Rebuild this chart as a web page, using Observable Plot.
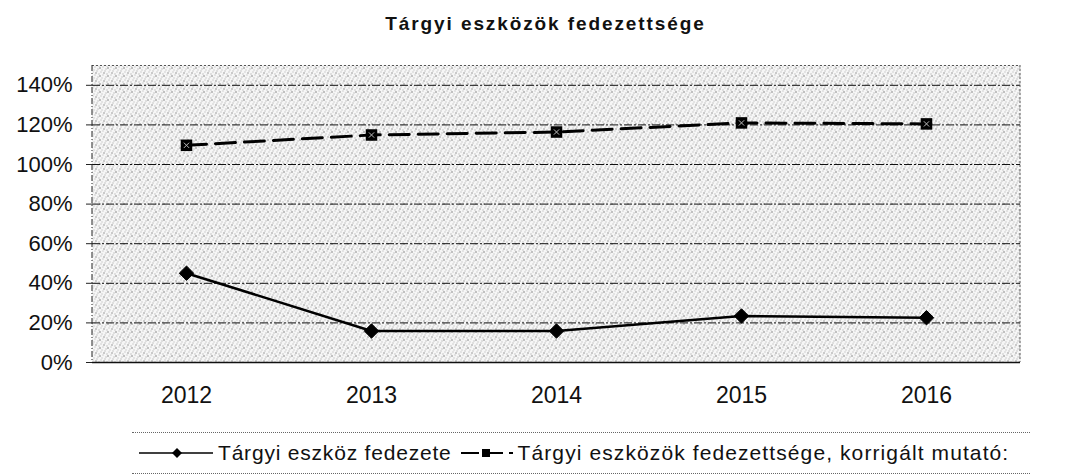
<!DOCTYPE html>
<html>
<head>
<meta charset="utf-8">
<script src="https://cdn.jsdelivr.net/npm/d3@7"></script>
<script src="https://cdn.jsdelivr.net/npm/@observablehq/plot@0.6"></script>
<style>
  html, body { margin: 0; padding: 0; background: #fff; }
  body { width: 1077px; height: 476px; overflow: hidden; font-family: "Liberation Sans", Arial, sans-serif; color: #111; }
  #title { height: 46px; line-height: 48px; text-align: center; font-weight: bold; font-size: 19px; letter-spacing: 1.9px; padding-left: 14px; }
  #chart { height: 372px; }
  #legend { position: absolute; left: 132px; width: 898px; top: 432px; height: 40px; border-top: 1px dotted #666; border-bottom: 1px dotted #666; display: flex; align-items: center; font-size: 21px; letter-spacing: 0.8px; }
  #legend .item { display: flex; align-items: center; }
  #legend svg { margin-right: 4px; }
</style>
</head>
<body>
<div id="title">Tárgyi eszközök fedezettsége</div>
<div id="chart"></div>
<div id="legend"></div>
<script>
const years = ["2012", "2013", "2014", "2015", "2016"];
const fedezete = [45.1, 15.9, 15.9, 23.5, 22.6];
const korrigalt = [109.7, 114.9, 116.4, 121.0, 120.5];
const yTicks = [0, 20, 40, 60, 80, 100, 120, 140];
const seriesNames = ["Tárgyi eszköz fedezete", "Tárgyi eszközök fedezettsége, korrigált mutató:"];

const d1 = years.map((y, i) => ({year: y, value: fedezete[i]}));
const d2 = years.map((y, i) => ({year: y, value: korrigalt[i]}));

const chart = Plot.plot({
  width: 1077,
  height: 372,
  marginLeft: 92,
  marginRight: 57,
  marginTop: 19,
  marginBottom: 56,
  style: {fontFamily: "Liberation Sans, Arial, sans-serif", fontSize: "22px", color: "#111", background: "transparent"},
  x: {domain: years, type: "point", padding: 0.5, label: null},
  y: {domain: [0, 150], label: null},
  marks: [
    Plot.frame({fill: "url(#stipple)", stroke: "none"}),
    Plot.ruleY(yTicks.filter(d => d > 0), {stroke: "#111", strokeWidth: 1, strokeDasharray: "8,2,2,2"}),
    Plot.ruleY([150], {stroke: "#555", strokeWidth: 1, strokeDasharray: "2,2"}),
    Plot.axisY({ticks: yTicks, tickFormat: d => d + "%", tickSize: 6, tickPadding: 14, fontSize: 22, stroke: "#222"}),
    Plot.axisX({tickSize: 0, tickPadding: 24, fontSize: 23}),
    Plot.ruleY([0], {stroke: "#111", strokeWidth: 1.5}),
    Plot.line(d2, {x: "year", y: "value", stroke: "#000", strokeWidth: 3, strokeDasharray: "20,9"}),
    Plot.dot(d2, {x: "year", y: "value", symbol: "square", r: 6.5, fill: "#000"}),
    Plot.dot(d2, {x: "year", y: "value", symbol: "times", r: 2.5, stroke: "#bbb", strokeWidth: 1}),
    Plot.line(d1, {x: "year", y: "value", stroke: "#000", strokeWidth: 2.5}),
    Plot.dot(d1, {x: "year", y: "value", symbol: "diamond2", r: 6.5, fill: "#000", stroke: "#000", strokeWidth: 1})
  ]
});

// stipple pattern to mimic the grey dotted background
const svg = d3.select(chart);
const defs = svg.insert("defs", ":first-child");
const pat = defs.append("pattern").attr("id", "stipple").attr("patternUnits", "userSpaceOnUse").attr("width", 8).attr("height", 8);
pat.append("rect").attr("width", 8).attr("height", 8).attr("fill", "#f6f6f6");
[[0,0,"#999"],[4,1,"#aaa"],[2,3,"#999"],[6,4,"#aaa"],[1,6,"#999"],[5,7,"#aaa"],[3,5,"#222"],[7,2,"#444"]].forEach(([x, y, c]) =>
  pat.append("rect").attr("x", x).attr("y", y).attr("width", 1).attr("height", 1).attr("fill", c));

// left and right dashed frame borders
const ys = chart.scale("y");
const yTop = ys.apply(150), yBottom = ys.apply(0);
svg.append("line").attr("x1", 92).attr("x2", 92).attr("y1", yTop).attr("y2", yBottom).attr("stroke", "#222").attr("stroke-dasharray", "6,2,1,2");
svg.append("line").attr("x1", 1020).attr("x2", 1020).attr("y1", yTop).attr("y2", yBottom).attr("stroke", "#555").attr("stroke-dasharray", "2,2");

document.getElementById("chart").appendChild(chart);

// legend
const legend = d3.select("#legend");
const it1 = legend.append("div").attr("class", "item").style("margin-left", "6px");
const s1 = it1.append("svg").attr("width", 76).attr("height", 20);
s1.append("line").attr("x1", 1).attr("x2", 75).attr("y1", 10).attr("y2", 10).attr("stroke", "#000").attr("stroke-width", 1.5);
s1.append("path").attr("d", d3.symbol(d3.symbolSquare, 50)()).attr("transform", "translate(39,10) rotate(45)").attr("fill", "#000");
it1.append("span").text(seriesNames[0]);
const it2 = legend.append("div").attr("class", "item").style("margin-left", "8px");
const s2 = it2.append("svg").attr("width", 54).attr("height", 20);
s2.append("line").attr("x1", 1).attr("x2", 53).attr("y1", 10).attr("y2", 10).attr("stroke", "#000").attr("stroke-width", 2).attr("stroke-dasharray", "18,6");
s2.append("rect").attr("x", 22).attr("y", 6).attr("width", 8).attr("height", 8).attr("fill", "#000");
it2.append("span").text(seriesNames[1]).style("letter-spacing", "1.1px");
</script>
</body>
</html>
